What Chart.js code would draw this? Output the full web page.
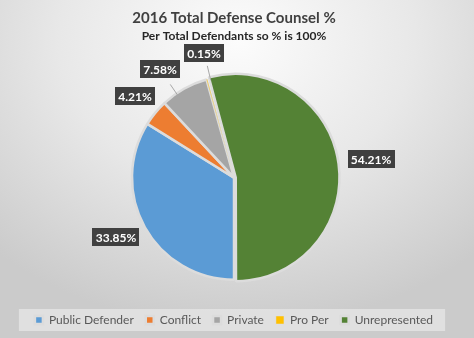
<!DOCTYPE html>
<html>
<head>
<meta charset="utf-8">
<script src="https://cdn.jsdelivr.net/npm/chart.js@4"></script>
<style>
  html, body { margin: 0; padding: 0; }
  body {
    width: 474px;
    height: 338px;
    overflow: hidden;
    background: radial-gradient(ellipse 75% 85% at 50% 12%, #fcfcfc 0%, #e8e8e8 50%, #cbcbcb 100%);
  }
  canvas { display: block; }
</style>
</head>
<body>
<canvas id="chart" width="474" height="338"></canvas>
<script>
const categories = ['Public Defender', 'Conflict', 'Private', 'Pro Per', 'Unrepresented'];
const shares = [33.85, 4.21, 7.58, 0.15, 54.21];
const titleText = '2016 Total Defense Counsel %';
const subtitleText = 'Per Total Defendants so % is 100%';

const sliceColors = ['#5b9bd5', '#ed7d31', '#a5a5a5', '#ffc000', '#548235'];

// dark value boxes just outside each slice, with a short leader when pushed out
const valueBoxes = {
  id: 'valueBoxes',
  afterDatasetsDraw(chart, args, opts) {
    const ctx = chart.ctx;
    const meta = chart.getDatasetMeta(0);
    ctx.save();
    ctx.font = 'bold 12px Lato';
    ctx.textAlign = 'center';
    ctx.textBaseline = 'middle';
    meta.data.forEach((arc, i) => {
      const {x, y, startAngle, endAngle, outerRadius} =
        arc.getProps(['x', 'y', 'startAngle', 'endAngle', 'outerRadius'], true);
      const mid = (startAngle + endAngle) / 2 + (opts.turn[i] || 0) * Math.PI / 180;
      const cos = Math.cos(mid), sin = Math.sin(mid);
      const edge = outerRadius + (arc.options.offset || 0);
      const text = shares[i].toFixed(2) + '%';
      const w = Math.round(ctx.measureText(text).width + 6), h = 18;
      const push = opts.push[i] || 0;
      const reach = edge + opts.gap + push;
      const d = reach + (w / 2) * Math.abs(cos) + (h / 2) * Math.abs(sin);
      const bx = x + cos * d, by = y + sin * d;

      if (push) {
        ctx.strokeStyle = '#a6a6a6';
        ctx.lineWidth = 1;
        ctx.beginPath();
        ctx.moveTo(x + cos * (edge - 2), y + sin * (edge - 2));
        ctx.lineTo(x + cos * reach, y + sin * reach);
        ctx.stroke();
      }
      ctx.fillStyle = '#404040';
      ctx.fillRect(Math.round(bx - w / 2), Math.round(by - h / 2), w, h);
      ctx.fillStyle = '#ffffff';
      ctx.fillText(text, Math.round(bx), Math.round(by) + 1);
    });
    ctx.restore();
  }
};

// lighter band behind the legend row
const legendBand = {
  id: 'legendBand',
  beforeDraw(chart) {
    const boxes = chart.legend.legendHitBoxes;
    if (!boxes || !boxes.length) return;
    const left = Math.min(...boxes.map(b => b.left)) - 16;
    const right = Math.max(...boxes.map(b => b.left + b.width)) + 12;
    const cy = boxes[0].top + boxes[0].height / 2;
    const ctx = chart.ctx;
    ctx.save();
    ctx.fillStyle = 'rgba(232,232,232,0.7)';
    ctx.fillRect(left, cy - 11, right - left, 22);
    ctx.restore();
  }
};

new Chart(document.getElementById('chart'), {
  type: 'pie',
  data: {
    labels: categories,
    datasets: [{
      data: shares,
      backgroundColor: sliceColors,
      borderColor: '#dcdcdc',
      borderWidth: [2.5, 2.5, 2.5, 0.5, 2.5],
      offset: [0, 0, 0, 0, 7],
      radius: 102
    }]
  },
  options: {
    responsive: false,
    animation: false,
    devicePixelRatio: 1,
    rotation: 180,
    layout: { padding: { right: 6, bottom: 2 } },
    plugins: {
      title: {
        display: true,
        text: titleText,
        color: '#404040',
        font: { family: 'Lato', size: 15, weight: 'bold' },
        padding: { top: 9, bottom: 0 }
      },
      subtitle: {
        display: true,
        text: subtitleText,
        color: '#262626',
        font: { family: 'Lato', size: 12, weight: 'bold' },
        padding: { top: 2, bottom: 10 }
      },
      legend: {
        position: 'bottom',
        labels: {
          boxWidth: 8,
          boxHeight: 8,
          padding: 12,
          color: '#595959',
          font: { family: 'Lato', size: 12 }
        }
      },
      tooltip: { enabled: false },
      valueBoxes: { gap: 5, push: [0, 0, 6, 8, 0], turn: [2.5, 0, -5, 2, 0] }
    }
  },
  plugins: [legendBand, valueBoxes]
});
</script>
</body>
</html>
